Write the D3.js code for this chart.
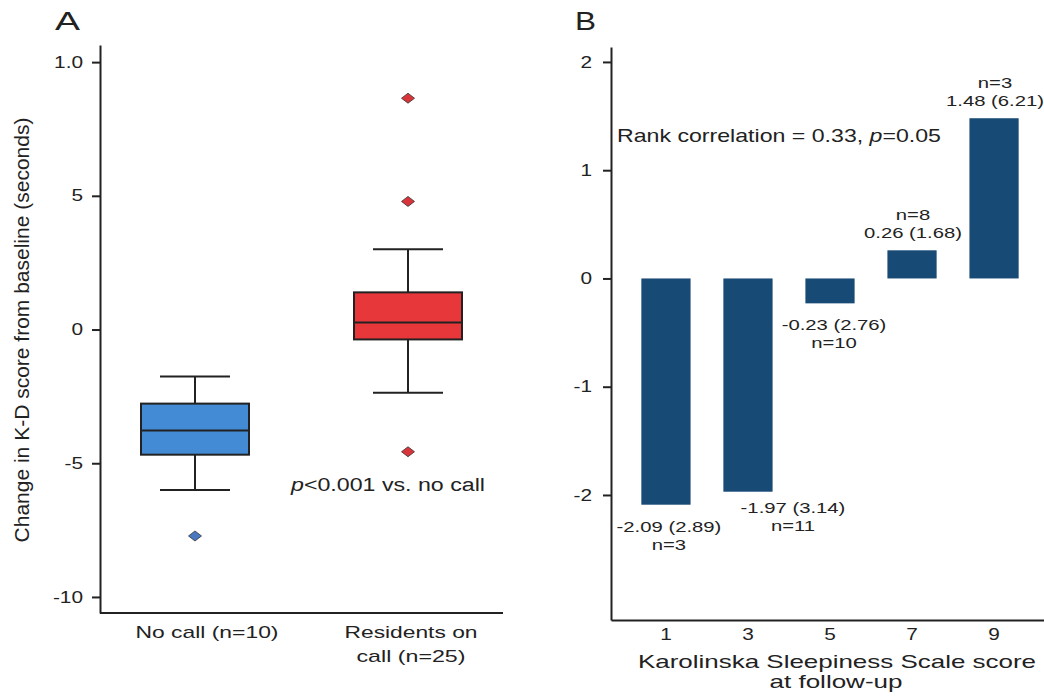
<!DOCTYPE html>
<html>
<head>
<meta charset="utf-8">
<script src="https://cdn.jsdelivr.net/npm/d3@7"></script>
<style>
body { margin: 0; background: #fff; }
svg text { font-family: "Liberation Sans", Arial, sans-serif; fill: #222; }
</style>
</head>
<body>
<svg width="1044" height="698"></svg>
<script>
// --- パネルA: 箱ひげ図の統計量 ---
var groupsA = ["No call (n=10)", "Residents on call (n=25)"];
var groupLinesA = [["No call (n=10)"], ["Residents on", "call (n=25)"]];
var whiskerLow  = [-6.0, -2.36];
var q1          = [-4.68, -0.37];
var median      = [-3.78, 0.26];
var q3          = [-2.77, 1.39];
var whiskerHigh = [-1.76, 3.0];
var outliers    = [[-7.72], [8.65, 4.79, -4.57]];
var yTicksA      = [10, 5, 0, -5, -10];
var yTickLabelsA = ["1.0", "5", "0", "-5", "-10"];

// --- パネルB: KSSスコア別の平均変化 ---
var kss        = ["1", "3", "5", "7", "9"];
var meanChange = [-2.09, -1.97, -0.23, 0.26, 1.48];
var sdChange   = [2.89, 3.14, 2.76, 1.68, 6.21];
var nB         = [3, 11, 10, 8, 3];
var yTicksB    = [2, 1, 0, -1, -2];

// 色
var boxColors = ["#448bd5", "#e8373b"];
var dotColors = ["#4a78c0", "#d8343a"];
var barColor = "#184a76";
var ink = "#222";

var svg = d3.select("svg");

/* テキストを置く: 横に引き伸ばされた元画像に合わせて textLength で幅をそろえる */
function put(g, parts, x, y, size, anchor, w, stretch) {
    var t = g.append("text").attr("y", y).attr("font-size", size);
    if (typeof parts === "string") parts = [[parts, false]];
    parts.forEach(function(p) {
        t.append("tspan").text(p[0]).attr("font-style", p[1] ? "italic" : null);
    });
    var L = t.node().getComputedTextLength();
    var W = w || L * (stretch || 1);
    t.attr("textLength", W).attr("lengthAdjust", "spacingAndGlyphs");
    var x0 = anchor == "middle" ? x - W / 2 : anchor == "end" ? x - W : x;
    t.attr("x", x0);
    return t;
}

function styleAxis(g) {
    g.selectAll("path, line").attr("stroke", ink).attr("stroke-width", 2);
    g.selectAll("text").attr("fill", ink).attr("font-family", null);
}

// 軸のラベルを横に伸ばす
function stretchTicks(g, padRight, stretch) {
    g.selectAll(".tick text").each(function() {
        var t = d3.select(this);
        var L = this.getComputedTextLength();
        var W = L * stretch;
        t.attr("text-anchor", "start").attr("x", -padRight - W)
         .attr("textLength", W).attr("lengthAdjust", "spacingAndGlyphs");
    });
}

/* ================= パネルA ================= */
var gA = svg.append("g");
var yA = d3.scaleLinear().domain([-10.6, 10.64]).range([613, 45]);
var xA = d3.scalePoint().domain(groupsA).range([100, 503]).padding(0.446);

var axA = gA.append("g").attr("transform", "translate(100,0)")
    .call(d3.axisLeft(yA).tickValues(yTicksA)
        .tickFormat(function(d, i) { return yTickLabelsA[i]; })
        .tickSize(8).tickSizeOuter(0).tickPadding(9));
axA.selectAll("text").attr("font-size", 16);
styleAxis(axA);
stretchTicks(axA, 17, 1.3);

var axAx = gA.append("g").attr("transform", "translate(0,613)")
    .call(d3.axisBottom(xA).tickValues([]).tickSizeOuter(0));
styleAxis(axAx);
axAx.select("path").attr("d", "M100,0H503");

put(gA, "A", 55, 30, 25, "start", 25);

var boxW = 108, capW = 70;
groupsA.forEach(function(grp, i) {
    var cx = xA(grp);
    var g = gA.append("g");
    // ひげ
    g.append("line").attr("x1", cx).attr("x2", cx)
        .attr("y1", yA(whiskerLow[i])).attr("y2", yA(q1[i]));
    g.append("line").attr("x1", cx).attr("x2", cx)
        .attr("y1", yA(q3[i])).attr("y2", yA(whiskerHigh[i]));
    [whiskerLow[i], whiskerHigh[i]].forEach(function(v) {
        g.append("line").attr("x1", cx - capW / 2).attr("x2", cx + capW / 2)
            .attr("y1", yA(v)).attr("y2", yA(v));
    });
    g.append("rect")
        .attr("x", cx - boxW / 2).attr("y", yA(q3[i]))
        .attr("width", boxW).attr("height", yA(q1[i]) - yA(q3[i]))
        .attr("fill", boxColors[i]);
    g.append("line").attr("x1", cx - boxW / 2).attr("x2", cx + boxW / 2)
        .attr("y1", yA(median[i])).attr("y2", yA(median[i]));
    g.selectAll("line, rect").attr("stroke", ink).attr("stroke-width", 2);

    // 外れ値 (ひし形)
    g.selectAll(".out").data(outliers[i]).enter().append("path")
        .attr("class", "out")
        .attr("d", function(d) {
            var y = yA(d);
            return "M" + cx + "," + (y - 5) + "L" + (cx + 6.5) + "," + y +
                   "L" + cx + "," + (y + 5) + "L" + (cx - 6.5) + "," + y + "Z";
        })
        .attr("fill", dotColors[i]).attr("stroke", "#333").attr("stroke-width", 0.8);
});

// カテゴリラベル
var labNudgeA = [12, 3];
var labWA = [[143], [133, 109]];
groupLinesA.forEach(function(lines, i) {
    lines.forEach(function(s, j) {
        put(gA, s, xA(groupsA[i]) + labNudgeA[i], 638 + j * 24, 17, "middle", labWA[i][j]);
    });
});

put(gA, [["p", true], ["<0.001 vs. no call", false]], 388, 491, 18, "middle", 194);

gA.append("text")
    .attr("transform", "translate(29,330) rotate(-90)")
    .attr("text-anchor", "middle").attr("font-size", 21)
    .text("Change in K-D score from baseline (seconds)");

/* ================= パネルB ================= */
var gB = svg.append("g");
var yB = d3.scaleLinear().domain([-3.155, 2.138]).range([620, 47]);
var xB = d3.scaleBand().domain(kss).range([611, 1049])
    .paddingInner(0.4).paddingOuter(0.37);

var axB = gB.append("g").attr("transform", "translate(611,0)")
    .call(d3.axisLeft(yB).tickValues(yTicksB).tickFormat(function(d) { return String(d); })
        .tickSize(8).tickSizeOuter(0).tickPadding(11));
axB.selectAll("text").attr("font-size", 16);
styleAxis(axB);
stretchTicks(axB, 19, 1.3);

var axBx = gB.append("g").attr("transform", "translate(0,620)")
    .call(d3.axisBottom(xB).tickSize(0).tickSizeOuter(0).tickPadding(9));
axBx.selectAll("text").attr("font-size", 16);
styleAxis(axBx);
axBx.selectAll(".tick text").each(function() {
    var L = this.getComputedTextLength();
    d3.select(this).attr("textLength", L * 1.3).attr("lengthAdjust", "spacingAndGlyphs");
});

put(gB, "B", 575, 30, 25, "start", 21);

gB.append("g").selectAll("rect")
    .data(meanChange)
    .enter()
    .append("rect")
    .attr("x", function(d, i) { return xB(kss[i]); })
    .attr("y", function(d) { return yB(Math.max(0, d)); })
    .attr("width", xB.bandwidth())
    .attr("height", function(d) { return Math.abs(yB(d) - yB(0)); })
    .attr("fill", barColor);

// 棒のラベル
var labDx = [3, 45, 4, 1, 1];
var labDy = [0, -6, 0, 0, 0];
meanChange.forEach(function(m, i) {
    var cx = xB(kss[i]) + xB.bandwidth() / 2 + labDx[i];
    var s1 = m.toFixed(2) + " (" + sdChange[i].toFixed(2) + ")";
    var s2 = "n=" + nB[i];
    var y0 = yB(m) + labDy[i];
    if (m < 0) {
        put(gB, s1, cx, y0 + 27, 15, "middle", null, 1.35);
        put(gB, s2, cx, y0 + 45, 15, "middle", null, 1.35);
    } else {
        put(gB, s2, cx, y0 - 30, 15, "middle", null, 1.35);
        put(gB, s1, cx, y0 - 12, 15, "middle", null, 1.35);
    }
});

put(gB, [["Rank correlation = 0.33, ", false], ["p", true], ["=0.05", false]],
    617, 142, 18.5, "start", 324);

put(gB, "Karolinska Sleepiness Scale score", 837, 668, 18.5, "middle", 398);
put(gB, "at follow-up", 836, 688, 18.5, "middle", 133);
</script>
</body>
</html>
